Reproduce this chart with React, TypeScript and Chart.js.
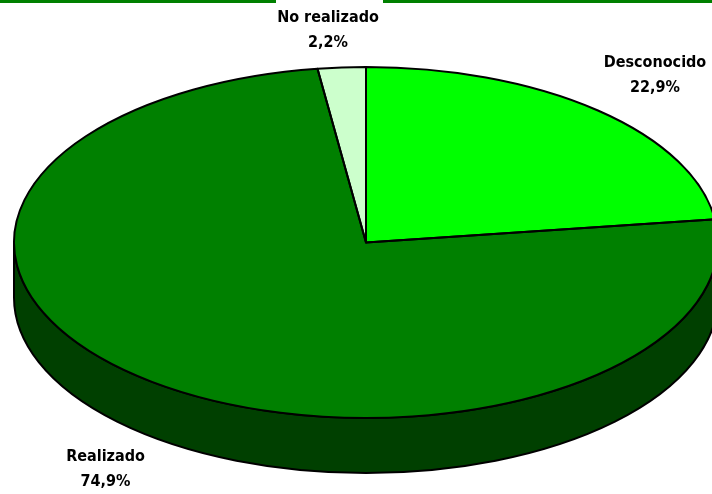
import React, { useEffect, useRef } from "react";
import { Chart, registerables } from "chart.js";

Chart.register(...registerables);

const categories = ["Desconocido", "Realizado", "No realizado"];
const shares = [22.9, 74.9, 2.2];
const shareLabels = ["22,9%", "74,9%", "2,2%"];
const sliceColors = ["#00FF00", "#008000", "#CCFFCC"];
const wallColors = ["#008000", "#004000", "#669966"];

const W = 712;
const H = 494;
const RADIUS = 352;
const TILT = 0.4985;
const DEPTH = 55;
const LINE = 2;
const LABEL_FONT = 'bold 16px "DejaVu Sans Condensed", "DejaVu Sans", sans-serif';
const labelCentres = [
  { x: 655, y: 63 },
  { x: 105.5, y: 457 },
  { x: 328, y: 18 },
];

const pie3d = {
  id: "pie3d",
  beforeDraw(chart: any) {
    const { ctx } = chart;
    ctx.save();
    ctx.fillStyle = "#008000";
    ctx.fillRect(0, 0, 276, 3);
    ctx.fillRect(383, 0, W - 383, 3);
    ctx.restore();
  },
  beforeDatasetsDraw(chart: any) {
    const { ctx } = chart;
    const arcs = chart.getDatasetMeta(0).data;
    ctx.save();
    arcs.forEach((arc: any, i: number) => {
      const ry = arc.outerRadius * TILT;
      const twoPi = Math.PI * 2;
      for (const shift of [-twoPi, 0, twoPi]) {
        const a0 = Math.max(arc.startAngle + shift, 0);
        const a1 = Math.min(arc.endAngle + shift, Math.PI);
        if (a1 <= a0) continue;
        ctx.beginPath();
        ctx.ellipse(arc.x, arc.y + DEPTH, arc.outerRadius, ry, 0, a0, a1);
        ctx.ellipse(arc.x, arc.y, arc.outerRadius, ry, 0, a1, a0, true);
        ctx.closePath();
        ctx.fillStyle = wallColors[i];
        ctx.fill();
        ctx.lineWidth = LINE;
        ctx.strokeStyle = "#000";
        ctx.stroke();
      }
    });
    ctx.restore();
  },
  beforeDatasetDraw(chart: any) {
    const { ctx } = chart;
    const arc = chart.getDatasetMeta(0).data[0];
    ctx.save();
    ctx.translate(arc.x, arc.y);
    ctx.scale(1, TILT);
    ctx.translate(-arc.x, -arc.y);
  },
  afterDatasetDraw(chart: any) {
    chart.ctx.restore();
  },
  afterDatasetsDraw(chart: any) {
    const { ctx } = chart;
    const arcs = chart.getDatasetMeta(0).data;
    ctx.save();
    ctx.lineWidth = LINE;
    ctx.strokeStyle = "#000";
    ctx.lineJoin = "round";
    arcs.forEach((arc: any) => {
      ctx.beginPath();
      ctx.moveTo(arc.x, arc.y);
      ctx.ellipse(arc.x, arc.y, arc.outerRadius, arc.outerRadius * TILT, 0, arc.startAngle, arc.endAngle);
      ctx.closePath();
      ctx.stroke();
    });
    ctx.font = LABEL_FONT;
    ctx.fillStyle = "#000";
    ctx.textAlign = "center";
    ctx.textBaseline = "middle";
    categories.forEach((name, i) => {
      const c = labelCentres[i];
      ctx.fillText(name, c.x, c.y);
      ctx.fillText(shareLabels[i], c.x, c.y + 25);
    });
    ctx.restore();
  },
};

export default function App() {
  const ref = useRef<HTMLCanvasElement>(null);
  useEffect(() => {
    const chart = new Chart(ref.current!, {
      type: "pie",
      data: {
        labels: categories,
        datasets: [
          {
            data: shares,
            backgroundColor: sliceColors,
            borderWidth: 0,
            radius: RADIUS,
            clip: false,
          } as any,
        ],
      },
      options: {
        animation: false,
        responsive: false,
        layout: { padding: { left: 20, bottom: 9 } },
        plugins: { legend: { display: false }, tooltip: { enabled: false } },
      },
      plugins: [pie3d],
    });
    return () => chart.destroy();
  }, []);
  return (
    <div style={{ position: "absolute", left: 0, top: 0, width: W, height: H, background: "#fff" }}>
      <canvas ref={ref} width={W} height={H} style={{ display: "block" }} />
    </div>
  );
}
